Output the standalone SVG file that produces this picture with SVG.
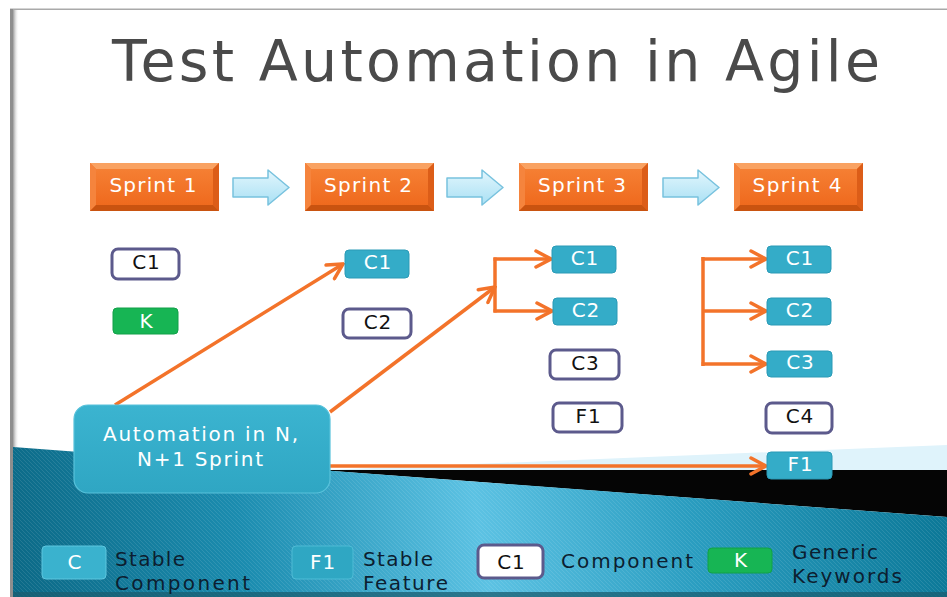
<svg xmlns="http://www.w3.org/2000/svg" xmlns:xlink="http://www.w3.org/1999/xlink" width="947" height="597" viewBox="0 0 947 597">
  <style>
    text { font-family: "DejaVu Sans", "Open Sans", sans-serif; }
    .title { font-size: 57px; fill: #4a4a4a; }
    .sprint-label { font-size: 20px; fill: #ffffff; text-anchor: middle; }
    .box-label { font-size: 20px; text-anchor: middle; letter-spacing: 1px; }
    .dark { fill: #111111; }
    .light { fill: #ffffff; }
    .comp { fill: #ffffff; stroke: #5c5a8c; stroke-width: 3; }
    .stable { fill: #34acc8; stroke: #2a9ab6; stroke-width: 1; }
    .keyword { fill: #17b554; stroke: #12a049; stroke-width: 1; }
    .note { font-size: 20px; fill: #ffffff; text-anchor: middle; }
    .legend-text { font-size: 20px; fill: #0c1e30; }
    .wire { fill: none; stroke: #f3732a; stroke-width: 3.5; stroke-linecap: butt; }
  </style>
  <defs>
    <linearGradient id="seaGrad" gradientUnits="userSpaceOnUse" x1="10" y1="597" x2="947" y2="447">
      <stop offset="0" stop-color="#0b6885"/>
      <stop offset="0.25" stop-color="#1b8caf"/>
      <stop offset="0.5" stop-color="#5cc2e3"/>
      <stop offset="0.72" stop-color="#2a9dc0"/>
      <stop offset="1" stop-color="#0a7695"/>
    </linearGradient>
    <pattern id="hatch" patternUnits="userSpaceOnUse" width="4" height="4">
      <path d="M0,0 L4,4" stroke="#ffffff" stroke-width="0.8" opacity="0.12"/>
    </pattern>
    <linearGradient id="edgeShade" x1="0" y1="0" x2="1" y2="0">
      <stop offset="0" stop-color="#9a9a9a"/>
      <stop offset="1" stop-color="#ffffff" stop-opacity="0"/>
    </linearGradient>
    <linearGradient id="faceGrad" x1="0" y1="0" x2="0" y2="1">
      <stop offset="0" stop-color="#f57f33"/>
      <stop offset="1" stop-color="#ef6a1e"/>
    </linearGradient>
    <linearGradient id="arrowGrad" x1="0" y1="0" x2="0" y2="1">
      <stop offset="0" stop-color="#e2f6fd"/>
      <stop offset="1" stop-color="#a9e0f4"/>
    </linearGradient>
    <linearGradient id="noteGrad" x1="0" y1="0" x2="0" y2="1">
      <stop offset="0" stop-color="#3bb4d0"/>
      <stop offset="1" stop-color="#2fa6c3"/>
    </linearGradient>

    <!-- bevelled orange sprint block -->
    <symbol id="sprintBlock" viewBox="0 0 129 48" width="129" height="48">
      <rect x="0" y="0" width="129" height="48" fill="#f26f23"/>
      <polygon points="0,0 129,0 123,6 6,6" fill="#f9a262"/>
      <polygon points="0,0 6,6 6,42 0,48" fill="#f5843d"/>
      <polygon points="129,0 129,48 123,42 123,6" fill="#dc5d18"/>
      <polygon points="0,48 6,42 123,42 129,48" fill="#c95310"/>
      <rect x="6" y="6" width="117" height="36" fill="url(#faceGrad)"/>
    </symbol>

    <!-- light blue block arrow between sprints -->
    <symbol id="flowArrow" viewBox="0 0 58 37" width="58" height="37">
      <polygon points="1,9 36,9 36,1 57,18.5 36,36 36,28 1,28" fill="url(#arrowGrad)" stroke="#78c2de" stroke-width="1.5" stroke-linejoin="round"/>
    </symbol>

    <marker id="chevron" viewBox="0 0 20 20" refX="18" refY="10" markerWidth="20" markerHeight="20" markerUnits="userSpaceOnUse" orient="auto">
      <path d="M3,2 L18,10 L3,18" fill="none" stroke="#f3732a" stroke-width="3.5" stroke-linecap="round" stroke-linejoin="miter"/>
    </marker>
  </defs>

  <!-- slide background -->
  <rect x="0" y="0" width="947" height="597" fill="#ffffff"/>
  <rect x="10" y="8.5" width="937" height="1.5" fill="#a9a9a9"/>
  <rect x="13" y="10" width="6" height="587" fill="url(#edgeShade)"/>
  <rect x="10" y="9" width="3" height="588" fill="#8e8e8e"/>

  <!-- lower wave band -->
  <polygon points="325,470 947,445 947,470" fill="#dff3fb"/>
  <polygon points="318,470 947,470 947,517" fill="#050505"/>
  <polygon points="13,447 947,517 947,597 13,597" fill="url(#seaGrad)"/>
  <polygon points="13,447 947,517 947,597 13,597" fill="url(#hatch)"/>
  <rect x="13" y="592" width="934" height="5" fill="#1a5d70" opacity="0.75"/>

  <!-- title -->
  <text class="title" x="112" y="81" textLength="768" lengthAdjust="spacing">Test Automation in Agile</text>

  <!-- sprint timeline -->
  <g id="sprint1">
    <use href="#sprintBlock" x="90" y="163"/>
    <text class="sprint-label" x="153" y="192" textLength="87" lengthAdjust="spacing">Sprint 1</text>
  </g>
  <g id="sprint2">
    <use href="#sprintBlock" x="305" y="163"/>
    <text class="sprint-label" x="368" y="192" textLength="88" lengthAdjust="spacing">Sprint 2</text>
  </g>
  <g id="sprint3">
    <use href="#sprintBlock" x="519" y="163"/>
    <text class="sprint-label" x="582" y="192" textLength="88" lengthAdjust="spacing">Sprint 3</text>
  </g>
  <g id="sprint4">
    <use href="#sprintBlock" x="734" y="163"/>
    <text class="sprint-label" x="797" y="192" textLength="89" lengthAdjust="spacing">Sprint 4</text>
  </g>

  <g id="flow-arrows">
    <use href="#flowArrow" x="232" y="169"/>
    <use href="#flowArrow" x="446" y="169"/>
    <use href="#flowArrow" x="662" y="169"/>
  </g>

  <!-- connectors -->
  <g id="connectors">
    <line class="wire" x1="115" y1="405" x2="343" y2="264" marker-end="url(#chevron)"/>
    <line class="wire" x1="330" y1="412" x2="495" y2="287" marker-end="url(#chevron)"/>
    <line class="wire" x1="495" y1="257.5" x2="495" y2="312.5"/>
    <line class="wire" x1="493.5" y1="259" x2="551" y2="259" marker-end="url(#chevron)"/>
    <line class="wire" x1="493.5" y1="311" x2="552" y2="311" marker-end="url(#chevron)"/>
    <line class="wire" x1="703" y1="257" x2="703" y2="366"/>
    <line class="wire" x1="701.5" y1="259" x2="766" y2="259" marker-end="url(#chevron)"/>
    <line class="wire" x1="703" y1="311" x2="766" y2="311" marker-end="url(#chevron)"/>
    <line class="wire" x1="701.5" y1="364" x2="766" y2="364" marker-end="url(#chevron)"/>
    <line class="wire" x1="330" y1="466" x2="766" y2="466" marker-end="url(#chevron)"/>
  </g>

  <!-- sprint 1 items -->
  <g id="s1-c1">
    <rect class="comp" x="112" y="249" width="67" height="30" rx="6"/>
    <text class="box-label dark" x="146.5" y="269">C1</text>
  </g>
  <g id="s1-k">
    <rect class="keyword" x="113" y="308" width="65" height="26" rx="4"/>
    <text class="box-label light" x="146.5" y="328">K</text>
  </g>

  <!-- sprint 2 items -->
  <g id="s2-c1">
    <rect class="stable" x="345" y="250" width="64" height="28" rx="4"/>
    <text class="box-label light" x="378" y="269">C1</text>
  </g>
  <g id="s2-c2">
    <rect class="comp" x="343" y="309" width="68" height="29" rx="6"/>
    <text class="box-label dark" x="378" y="328.5">C2</text>
  </g>

  <!-- sprint 3 items -->
  <g id="s3-c1">
    <rect class="stable" x="552" y="246" width="64" height="27" rx="4"/>
    <text class="box-label light" x="585" y="264.5">C1</text>
  </g>
  <g id="s3-c2">
    <rect class="stable" x="553" y="298" width="64" height="27" rx="4"/>
    <text class="box-label light" x="586" y="316.5">C2</text>
  </g>
  <g id="s3-c3">
    <rect class="comp" x="550" y="350" width="69" height="29" rx="6"/>
    <text class="box-label dark" x="585.5" y="369.5">C3</text>
  </g>
  <g id="s3-f1">
    <rect class="comp" x="553" y="403" width="69" height="29" rx="6"/>
    <text class="box-label dark" x="588.5" y="422.5">F1</text>
  </g>

  <!-- sprint 4 items -->
  <g id="s4-c1">
    <rect class="stable" x="767" y="246" width="64" height="27" rx="4"/>
    <text class="box-label light" x="800" y="264.5">C1</text>
  </g>
  <g id="s4-c2">
    <rect class="stable" x="767" y="298" width="64" height="27" rx="4"/>
    <text class="box-label light" x="800" y="316.5">C2</text>
  </g>
  <g id="s4-c3">
    <rect class="stable" x="767" y="351" width="65" height="26" rx="4"/>
    <text class="box-label light" x="800.5" y="369">C3</text>
  </g>
  <g id="s4-c4">
    <rect class="comp" x="766" y="403" width="66" height="30" rx="6"/>
    <text class="box-label dark" x="800" y="422.5">C4</text>
  </g>
  <g id="s4-f1">
    <rect class="stable" x="767" y="452" width="65" height="27" rx="4"/>
    <text class="box-label light" x="800.5" y="470.5">F1</text>
  </g>

  <!-- callout -->
  <g id="automation-note">
    <rect x="74" y="405" width="256" height="88" rx="14" fill="url(#noteGrad)" stroke="#58c2db" stroke-width="1.2"/>
    <text class="note" x="200.5" y="441" textLength="195" lengthAdjust="spacing">Automation in N,</text>
    <text class="note" x="200" y="466" textLength="126" lengthAdjust="spacing">N+1 Sprint</text>
  </g>

  <!-- legend -->
  <g id="legend-stable-component">
    <rect x="42" y="546" width="64" height="33" rx="4" fill="#3ab2ce" stroke="#5cc6df" stroke-width="1"/>
    <text class="box-label light" x="75" y="569">C</text>
    <text class="legend-text" x="115" y="566" textLength="70" lengthAdjust="spacing">Stable</text>
    <text class="legend-text" x="115" y="590" textLength="135" lengthAdjust="spacing">Component</text>
  </g>
  <g id="legend-stable-feature">
    <rect x="292" y="546" width="61" height="33" rx="4" fill="#2fa7c3" stroke="#4fbcd6" stroke-width="1"/>
    <text class="box-label light" x="323" y="569">F1</text>
    <text class="legend-text" x="363" y="566" textLength="70" lengthAdjust="spacing">Stable</text>
    <text class="legend-text" x="363" y="590" textLength="85" lengthAdjust="spacing">Feature</text>
  </g>
  <g id="legend-component">
    <rect class="comp" x="478" y="545" width="65" height="33" rx="6"/>
    <text class="box-label dark" x="511.5" y="568.5">C1</text>
    <text class="legend-text" x="561" y="568" textLength="132" lengthAdjust="spacing">Component</text>
  </g>
  <g id="legend-generic-keywords">
    <rect class="keyword" x="708" y="548" width="64" height="25" rx="4"/>
    <text class="box-label light" x="741" y="567">K</text>
    <text class="legend-text" x="792" y="559" textLength="86" lengthAdjust="spacing">Generic</text>
    <text class="legend-text" x="792" y="583" textLength="110" lengthAdjust="spacing">Keywords</text>
  </g>
</svg>
